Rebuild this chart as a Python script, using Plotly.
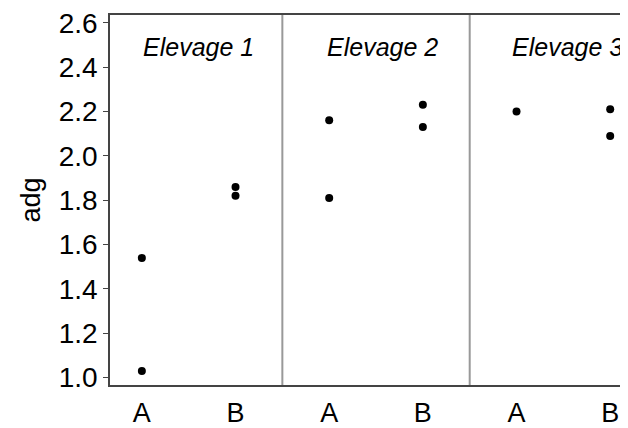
import plotly.graph_objects as go

# Data
elevages = ["Elevage 1", "Elevage 2", "Elevage 3"]
groups = ["A", "B"]
# adg values per elevage, per group
adg_values = {
    "Elevage 1": {"A": [1.54, 1.03], "B": [1.86, 1.82]},
    "Elevage 2": {"A": [2.16, 1.81], "B": [2.23, 2.13]},
    "Elevage 3": {"A": [2.20], "B": [2.21, 2.09]},
}
y_ticks = [1.0, 1.2, 1.4, 1.6, 1.8, 2.0, 2.2, 2.4, 2.6]

xs, ys = [], []
tickvals, ticktext = [], []
for i, e in enumerate(elevages):
    for j, g in enumerate(groups):
        pos = i * 2 + j
        tickvals.append(pos)
        ticktext.append(g)
        for v in adg_values[e][g]:
            xs.append(pos)
            ys.append(v)

fig = go.Figure()
fig.add_trace(go.Scatter(
    x=xs, y=ys, mode="markers",
    marker=dict(color="black", size=8),
    showlegend=False, hoverinfo="skip",
))

# panel separators
for i in range(1, len(elevages)):
    fig.add_shape(type="line", xref="x", yref="paper",
                  x0=i * 2 - 0.5, x1=i * 2 - 0.5, y0=0, y1=1,
                  line=dict(color="#999999", width=2))

# panel labels
for i, e in enumerate(elevages):
    fig.add_annotation(x=i * 2 + 0.6 - 0.03 * i, y=2.49, xref="x", yref="y",
                       text=f"<i>{e}</i>", showarrow=False,
                       font=dict(size=25, color="black"))

# page body has an 8px margin; size the figure so the plot lands where it should
fig.update_layout(
    width=620, height=420,
    margin=dict(l=102, r=0, t=4, b=39),
    plot_bgcolor="white", paper_bgcolor="white",
    font=dict(family="Liberation Sans, Arial, sans-serif", color="black"),
)
fig.update_xaxes(
    range=[-0.34, 5.19], tickvals=tickvals, ticktext=ticktext,
    showgrid=False, zeroline=False, ticks="",
    showline=True, linecolor="#444444", linewidth=1.5, mirror=True,
    tickfont=dict(size=27, color="black"), ticklabelstandoff=3,
)
fig.update_yaxes(
    range=[0.967, 2.635], tickvals=y_ticks,
    ticktext=[f"{v:.1f}" for v in y_ticks],
    showgrid=False, zeroline=False, ticks="outside", ticklen=5,
    tickcolor="#444444", tickwidth=1.2,
    showline=True, linecolor="#444444", linewidth=1.5,
    tickfont=dict(size=28, color="black"), ticklabelstandoff=0,
    ticklabeloverflow="allow",
    title=dict(text="adg", font=dict(size=27, color="black"), standoff=10),
)

fig.write_html("out.html")
